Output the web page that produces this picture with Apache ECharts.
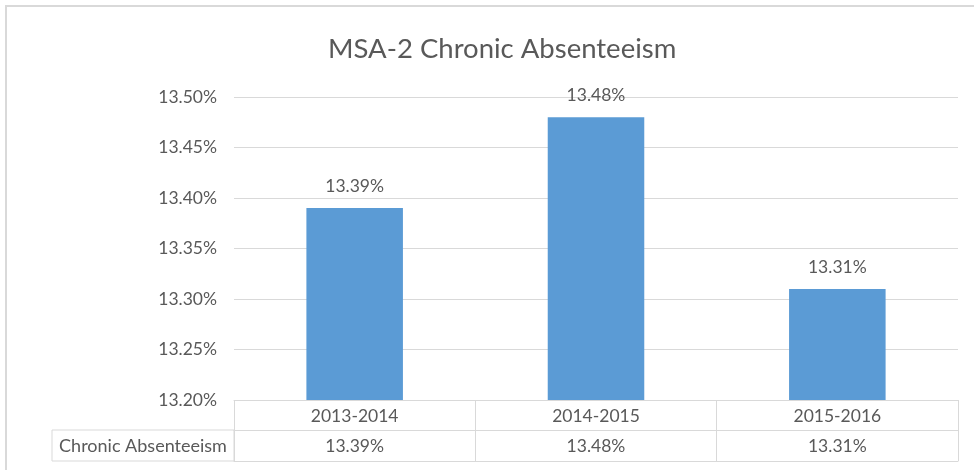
<!DOCTYPE html>
<html>
<head>
<meta charset="utf-8">
<script src="https://cdn.jsdelivr.net/npm/echarts@6/dist/echarts.min.js"></script>
<style>
  html, body { margin: 0; padding: 0; background: #fff; }
  #chart { width: 974px; height: 470px; }
</style>
</head>
<body>
<div id="chart"></div>
<script>
// ===== data =====
const categories = ['2013-2014', '2014-2015', '2015-2016']
const seriesName = 'Chronic Absenteeism'
const values = [13.39, 13.48, 13.31]
const yTicks = { min: 13.2, max: 13.5, step: 0.05 }

const FONT = 'Lato'
const TEXT = '#595959'
const LINE = '#d9d9d9'
const FS = 17.5

const fmt = v => Number(v).toFixed(2) + '%'

const chart = echarts.init(document.getElementById('chart'))

chart.setOption({
  animation: false,
  textStyle: { fontFamily: FONT },
  title: {
    text: 'MSA-2 Chronic Absenteeism',
    left: 323,
    top: 30,
    textStyle: { fontFamily: FONT, fontSize: 27.5, fontWeight: 'normal', color: TEXT }
  },
  grid: { left: 234, right: 16, top: 97, bottom: 70 },
  xAxis: [
    {
      type: 'category',
      data: categories,
      position: 'bottom',
      axisLine: { lineStyle: { color: LINE } },
      axisTick: { show: true, length: 61, interval: 0, lineStyle: { color: LINE } },
      axisLabel: { fontFamily: FONT, fontSize: FS, color: TEXT, margin: 7 }
    },
    {
      type: 'category',
      data: categories,
      position: 'bottom',
      offset: 30,
      axisLine: { lineStyle: { color: LINE } },
      axisTick: { show: false },
      axisLabel: {
        fontFamily: FONT, fontSize: FS, color: TEXT, margin: 7,
        formatter: (v, i) => fmt(values[i])
      }
    },
    {
      type: 'category',
      data: categories,
      position: 'bottom',
      offset: 61,
      axisLine: { lineStyle: { color: LINE } },
      axisTick: { show: false },
      axisLabel: { show: false }
    }
  ],
  yAxis: {
    type: 'value',
    min: yTicks.min,
    max: yTicks.max,
    interval: yTicks.step,
    axisLine: { show: false },
    axisTick: { show: false },
    axisLabel: { fontFamily: FONT, fontSize: FS, color: TEXT, margin: 17, formatter: v => fmt(v) },
    splitLine: { lineStyle: { color: LINE, width: 1 } }
  },
  graphic: [
    {
      type: 'rect',
      shape: { x: 52, y: 430, width: 182, height: 31 },
      style: { fill: 'none', stroke: LINE, lineWidth: 1 }
    },
    {
      type: 'text',
      x: 143, y: 446,
      style: {
        text: seriesName, fontFamily: FONT, fontSize: 18, fill: TEXT,
        align: 'center', verticalAlign: 'middle'
      }
    },
    {
      type: 'rect',
      shape: { x: 6, y: 6, width: 980, height: 480 },
      style: { fill: 'none', stroke: LINE, lineWidth: 2 }
    }
  ],
  series: [
    {
      name: seriesName,
      type: 'bar',
      xAxisIndex: 0,
      barWidth: '40%',
      data: values,
      itemStyle: { color: '#5b9bd5' },
      label: {
        show: true,
        position: 'top',
        distance: 13,
        fontFamily: FONT,
        fontSize: FS,
        color: TEXT,
        formatter: p => fmt(p.value)
      }
    }
  ]
})
</script>
</body>
</html>
